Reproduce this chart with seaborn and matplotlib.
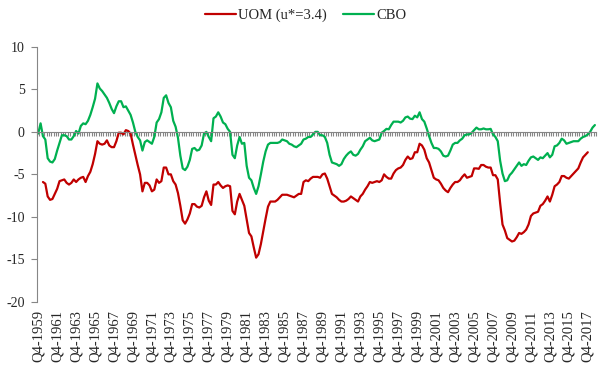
import numpy as np
import pandas as pd
import matplotlib.pyplot as plt
import seaborn as sns

# quarterly categories, Q4-1959 .. Q3-2018
quarters = pd.period_range("1959Q4", "2018Q3", freq="Q")
quarter_labels = [f"Q{p.quarter}-{p.year}" for p in quarters]

# output gap, UOM measure (u*=3.4)
uom = [
    np.nan, np.nan, -5.9, -6.1, -7.6, -8.0, -7.9, -7.3,
    -6.7, -5.8, -5.7, -5.6, -6.0, -6.2, -6.0, -5.6,
    -5.9, -5.6, -5.4, -5.3, -5.9, -5.2, -4.7, -3.8,
    -2.6, -1.1, -1.4, -1.5, -1.4, -1.0, -1.6, -1.8,
    -1.8, -1.1, -0.1, -0.1, -0.3, 0.2, 0.1, -0.2,
    -1.5, -2.7, -3.9, -5.0, -7.0, -6.0, -6.0, -6.3,
    -7.0, -6.8, -5.6, -6.0, -5.8, -4.2, -4.2, -5.0,
    -5.0, -5.8, -6.2, -7.2, -8.7, -10.4, -10.8, -10.3,
    -9.6, -8.5, -8.5, -8.8, -8.9, -8.7, -7.7, -7.0,
    -8.1, -8.6, -6.2, -6.2, -5.9, -6.3, -6.6, -6.4,
    -6.3, -6.4, -9.3, -9.7, -8.2, -7.3, -8.0, -8.7,
    -10.3, -11.9, -12.3, -13.6, -14.8, -14.4, -13.2, -11.7,
    -10.2, -8.8, -8.2, -8.2, -8.2, -8.0, -7.7, -7.4,
    -7.4, -7.4, -7.5, -7.6, -7.7, -7.5, -7.3, -7.3,
    -5.9, -5.7, -5.8, -5.5, -5.3, -5.3, -5.3, -5.4,
    -5.0, -4.9, -5.5, -6.4, -7.3, -7.5, -7.7, -8.0,
    -8.2, -8.2, -8.1, -7.9, -7.6, -7.8, -8.0, -8.2,
    -7.6, -7.3, -6.8, -6.4, -5.9, -6.0, -5.9, -5.8,
    -5.9, -5.7, -5.0, -5.3, -5.5, -5.5, -4.9, -4.5,
    -4.3, -4.2, -3.9, -3.3, -2.9, -3.2, -3.1, -2.4,
    -2.4, -1.4, -1.6, -2.1, -3.1, -3.6, -4.5, -5.4,
    -5.6, -5.7, -6.1, -6.6, -6.9, -7.1, -6.6, -6.2,
    -5.9, -5.9, -5.7, -5.3, -5.0, -5.4, -5.3, -5.2,
    -4.3, -4.3, -4.35, -3.9, -3.9, -4.1, -4.2, -4.2,
    -5.1, -5.1, -5.6, -8.4, -10.9, -11.6, -12.5, -12.7,
    -12.9, -12.8, -12.4, -11.9, -12.0, -11.8, -11.5, -10.9,
    -9.9, -9.6, -9.5, -9.4, -8.7, -8.5, -8.1, -7.6,
    -8.2, -7.4, -6.4, -6.2, -5.9, -5.2, -5.2, -5.4,
    -5.5, -5.2, -4.9, -4.6, -4.3, -3.6, -3.0, -2.7,
    -2.4, np.nan, np.nan, np.nan,
]

# output gap, CBO potential
cbo = [
    -0.2, 1.0, -0.5, -0.9, -3.1, -3.5, -3.6, -3.2,
    -2.2, -1.3, -0.4, -0.4, -0.5, -0.9, -0.9, -0.5,
    0.1, -0.2, 0.7, 1.0, 0.9, 1.3, 2.0, 2.9,
    3.9, 5.7, 5.1, 4.8, 4.4, 4.0, 3.4, 2.7,
    2.2, 3.0, 3.6, 3.6, 2.9, 3.0, 2.5, 2.0,
    1.1, 0.0, -0.6, -1.0, -2.2, -1.2, -1.0, -1.2,
    -1.4, -0.6, 1.1, 1.5, 2.3, 4.0, 4.3, 3.4,
    2.9, 1.3, 0.6, -0.7, -2.8, -4.3, -4.5, -4.1,
    -3.3, -2.0, -1.9, -2.2, -2.1, -1.6, -0.2, 0.0,
    -0.6, -1.1, 1.6, 1.8, 2.3, 1.8, 1.1, 0.9,
    0.35, 0.0, -2.7, -3.1, -1.6, -0.6, -1.4, -1.3,
    -4.0, -5.4, -5.7, -6.6, -7.3, -6.4, -5.0, -3.5,
    -2.3, -1.5, -1.3, -1.3, -1.3, -1.3, -1.2, -0.9,
    -1.0, -1.1, -1.4, -1.5, -1.7, -1.8, -1.6, -1.4,
    -0.9, -0.8, -0.6, -0.6, -0.3, 0.0, 0.0, -0.4,
    -0.4, -0.6, -1.3, -2.7, -3.6, -3.7, -3.8, -4.0,
    -3.8, -3.2, -2.8, -2.5, -2.3, -2.7, -2.8, -2.6,
    -2.1, -1.7, -1.1, -0.9, -0.7, -1.0, -1.1, -1.0,
    -0.9, -0.1, 0.1, 0.35, 0.3, 0.8, 1.2, 1.2,
    1.2, 1.1, 1.3, 1.7, 1.8, 1.55, 1.5, 1.9,
    1.7, 2.3, 1.5, 1.2, 0.4, -0.5, -1.3, -1.9,
    -1.9, -2.0, -2.3, -2.8, -2.9, -2.8, -2.2, -1.5,
    -1.3, -1.3, -1.0, -0.8, -0.4, -0.3, -0.3, -0.1,
    0.2, 0.5, 0.3, 0.3, 0.4, 0.3, 0.3, 0.35,
    -0.3, -0.6, -1.1, -3.4, -4.9, -5.8, -5.7, -5.1,
    -4.8, -4.4, -4.0, -3.6, -4.0, -3.8, -3.9, -3.4,
    -3.0, -2.9, -3.1, -3.3, -3.0, -3.1, -2.8, -2.5,
    -3.0, -2.7, -1.7, -1.6, -1.3, -0.8, -1.0, -1.4,
    -1.3, -1.2, -1.1, -1.1, -1.1, -0.8, -0.6, -0.5,
    -0.3, 0.0, 0.5, 0.8,
]

series_names = ["UOM (u*=3.4)", "CBO"]
series_colors = {"UOM (u*=3.4)": "#C00000", "CBO": "#00B050"}

t = np.arange(len(quarters))
df = pd.DataFrame({"t": t, series_names[0]: uom, series_names[1]: cbo})
long_df = df.melt(id_vars="t", var_name="series", value_name="gap").dropna()

sns.set_style("white")
plt.rcParams["font.family"] = ["Liberation Serif", "DejaVu Serif"]
plt.rcParams["axes.unicode_minus"] = False

grey = "#868686"

fig, ax = plt.subplots(figsize=(6.07, 3.69), dpi=100)
fig.subplots_adjust(left=0.061, right=0.982, top=0.873, bottom=0.182)

sns.lineplot(data=long_df, x="t", y="gap", hue="series", hue_order=series_names,
             palette=series_colors, linewidth=1.6, legend=False, ax=ax)

# x axis line sits on zero, one tick per quarter
ax.spines[["top", "right"]].set_visible(False)
ax.spines["bottom"].set_position(("data", 0))
ax.spines["bottom"].set_color(grey)
ax.spines["left"].set_color(grey)
ax.set_xlim(-0.5, len(quarters) - 0.5)
ax.set_xticks(np.arange(len(quarters) + 1) - 0.5)
ax.tick_params(axis="x", bottom=True, direction="out", length=3, color=grey,
               labelbottom=False)
ax.set_ylim(-20, 10)
ax.set_yticks(range(-20, 11, 5))
ax.tick_params(axis="y", left=True, length=4, color=grey, labelsize=10, pad=5)
ax.set(xlabel="", ylabel="")

# category labels along the bottom of the plot area
secax = ax.secondary_xaxis("bottom")
secax.set_xticks(t[::8], quarter_labels[::8], rotation=90)
secax.tick_params(length=0, labelsize=10.5, pad=6)
secax.spines["bottom"].set_visible(False)

fig.legend(handles=ax.lines[:2], labels=series_names, loc="center",
           bbox_to_anchor=(0.504, 0.959), ncol=2, frameon=False,
           handlelength=2.1, handletextpad=0.2, columnspacing=1.1, fontsize=10.5)

fig.savefig("out.png", dpi=100)
